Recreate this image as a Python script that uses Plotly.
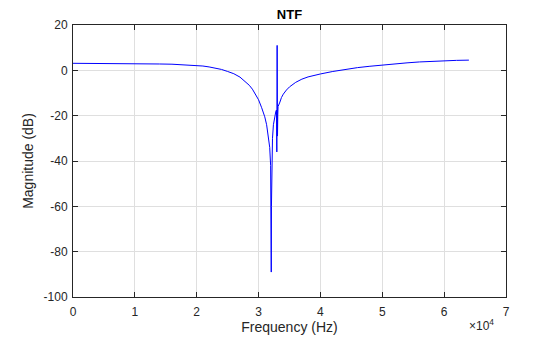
import plotly.graph_objects as go

# Frequency (Hz) and magnitude (dB)
freq_hz = [0, 2000, 4000, 6000, 8000, 10000, 12000, 14000, 16000, 18000,
           20000, 21000, 22000, 23000, 24000, 25000, 26000, 27000, 28000, 28500,
           29000, 29500, 30000, 30500, 31000, 31300, 31600, 31800, 31950, 32020,
           32050, 32080, 32150, 32250, 32400, 32600, 32800, 32900, 32950, 32980,
           33000, 33020, 33060, 33100, 33150, 33250, 33450, 33700, 34000, 34500,
           35000, 36000, 37000, 38000, 39000, 40000, 42000, 44000, 46000, 48000,
           50000, 52000, 54000, 56000, 58000, 60000, 62000, 64000]
mag_db = [3.1, 3.1, 3.1, 3.1, 3.0, 3.0, 2.9, 2.8, 2.7, 2.5,
          2.2, 1.9, 1.5, 1.0, 0.4, -0.5, -1.5, -3.0, -5.2, -6.6,
          -8.3, -10.6, -13.0, -16.5, -20.5, -24.0, -29.0, -34.0, -42.0, -60.0,
          -89.0, -60.0, -36.0, -30.0, -24.0, -20.0, -18.0, -17.5, -36.0, -10.0,
          11.0, -10.0, -29.0, -20.0, -16.0, -15.5, -14.0, -12.0, -10.5, -8.7,
          -7.3, -5.3, -3.9, -2.9, -2.2, -1.6, -0.5, 0.4, 1.2, 1.8,
          2.4, 2.9, 3.3, 3.7, 4.0, 4.2, 4.4, 4.5]

x_tick_vals = [0, 10000, 20000, 30000, 40000, 50000, 60000, 70000]
x_tick_text = ["0", "1", "2", "3", "4", "5", "6", "7"]
y_tick_vals = [-100, -80, -60, -40, -20, 0, 20]
y_tick_text = ["-100", "-80", "-60", "-40", "-20", "0", "20"]

font_family = "Liberation Sans, Arial, sans-serif"
axis_col = "#262626"
grid_col = "#dfdfdf"

fig = go.Figure()
fig.add_trace(go.Scatter(x=freq_hz, y=mag_db, mode="lines",
                         line=dict(color="#0000ff", width=1), showlegend=False))

fig.update_layout(
    width=560, height=337,
    margin=dict(l=73, r=54, t=25, b=40, autoexpand=False),
    paper_bgcolor="white", plot_bgcolor="white",
    font=dict(family=font_family, size=12, color=axis_col),
    title=dict(text="<b>NTF</b>", x=0.5, xanchor="center", xref="paper",
               y=1, yref="paper", yanchor="bottom", pad=dict(b=6),
               font=dict(size=13, color="#000000", family=font_family)),
)
fig.update_xaxes(range=[0, 70000], tickvals=x_tick_vals, ticktext=x_tick_text,
                 ticks="inside", ticklen=5, tickcolor=axis_col, automargin=False,
                 showline=True, linecolor=axis_col, linewidth=1, mirror="ticks",
                 showgrid=True, gridcolor=grid_col, gridwidth=1, zeroline=False,
                 tickfont=dict(size=12, color=axis_col), ticklabelstandoff=4,
                 title=dict(text="Frequency (Hz)", font=dict(size=14, color=axis_col), standoff=3))
fig.update_yaxes(range=[-100, 20], tickvals=y_tick_vals, ticktext=y_tick_text,
                 ticks="inside", ticklen=5, tickcolor=axis_col, automargin=False,
                 showline=True, linecolor=axis_col, linewidth=1, mirror="ticks",
                 showgrid=True, gridcolor=grid_col, gridwidth=1, zeroline=False,
                 tickfont=dict(size=12, color=axis_col), ticklabelstandoff=2,
                 title=dict(text="Magnitude (dB)", font=dict(size=14, color=axis_col), standoff=6))
fig.add_annotation(text="×10<sup>4</sup>", x=0.977, xref="paper", xanchor="right",
                   y=0, yref="paper", yshift=-18, yanchor="top", showarrow=False,
                   font=dict(size=12, color=axis_col, family=font_family))

fig.write_html("out.html")
